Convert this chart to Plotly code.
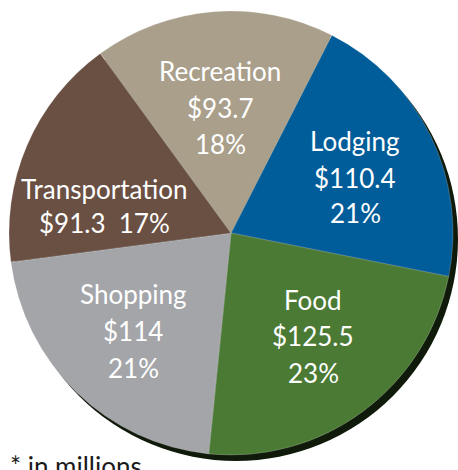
import plotly.graph_objects as go

# ---- data ----
categories = ["Lodging", "Food", "Shopping", "Transportation", "Recreation"]
values = [110.4, 125.5, 114, 91.3, 93.7]
colors = ["#005D99", "#4B7A35", "#A4A5A9", "#6A4F43", "#A99F8B"]
footnote = "* in millions"

W, H = 458, 470


def px_x(px):
    return min(max(px / W, 0), 1)


def px_y(py):
    return min(max(1 - py / H, 0), 1)


# pie geometry (pixels)
CX, CY, R = 231, 233, 222
SHX, SHY = 5, 6  # shadow offset

total = sum(values)
pcts = [round(v / total * 100) for v in values]

fig = go.Figure()

# shadow disc behind the pie
fig.add_trace(go.Pie(
    values=[1], labels=["shadow"], sort=False,
    marker=dict(colors=["#0f1a0b"], line=dict(width=0)),
    textinfo="none", hoverinfo="skip", showlegend=False,
    domain=dict(x=[px_x(CX + SHX - R), px_x(CX + SHX + R)],
                y=[px_y(CY + SHY + R), px_y(CY + SHY - R)]),
))

fig.add_trace(go.Pie(
    labels=categories, values=values, sort=False,
    direction="clockwise", rotation=27,
    marker=dict(colors=colors, line=dict(color="rgba(255,255,255,0.35)", width=0.6)),
    textinfo="none", hoverinfo="label+value+percent", showlegend=False,
    domain=dict(x=[px_x(CX - R), px_x(CX + R)],
                y=[px_y(CY + R), px_y(CY - R)]),
))

# label layout: per category, centre x and line centres y (pixels)
label_pos = {
    "Recreation": (220, [71, 108, 144]),
    "Lodging": (355, [141, 178, 213]),
    "Transportation": (104, [189, 223]),
    "Shopping": (133, [294, 331, 368]),
    "Food": (313, [300, 336, 373]),
}

FONT = dict(family="Lato, 'Open Sans', sans-serif", size=26, color="white")
annotations = []
for cat, val, pct in zip(categories, values, pcts):
    x, ys = label_pos[cat]
    if len(ys) == 3:
        lines = [cat, f"${val:g}", f"{pct}%"]
    else:
        lines = [cat, f"${val:g}\u00a0\u00a0{pct}%"]
    for line, y in zip(lines, ys):
        annotations.append(dict(
            x=px_x(x), y=px_y(y), xref="paper", yref="paper",
            text=line, showarrow=False, font=FONT,
            xanchor="center", yanchor="middle",
        ))

annotations.append(dict(
    x=px_x(8), y=1 - 466 / H, xref="paper", yref="paper",
    text=footnote, showarrow=False,
    font=dict(family="Lato, 'Open Sans', sans-serif", size=26, color="#1a1a1a"),
    xanchor="left", yanchor="middle",
))

fig.update_layout(
    width=W, height=H,
    margin=dict(l=0, r=0, t=0, b=0),
    paper_bgcolor="white", plot_bgcolor="white",
    annotations=annotations,
)

fig.write_html(
    "out.html",
    config={"displayModeBar": False},
    post_script="document.body.style.margin='0';document.body.style.padding='0';",
)
